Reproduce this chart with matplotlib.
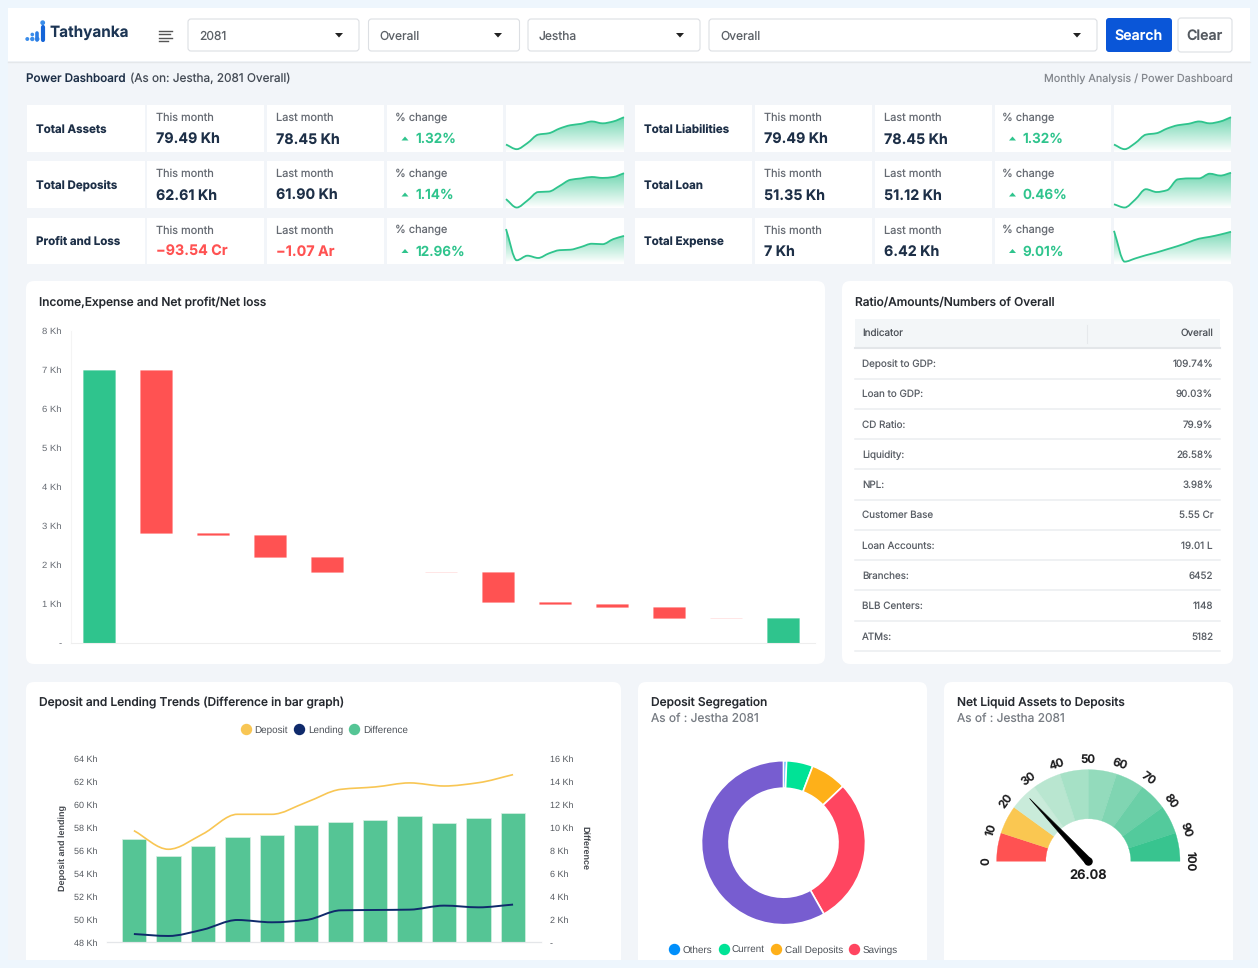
import numpy as np
import matplotlib
matplotlib.use('Agg')
from matplotlib import pyplot as plt
from matplotlib.lines import Line2D
from matplotlib.patches import FancyBboxPatch, PathPatch, Polygon, Rectangle, Wedge
from matplotlib.path import Path

plt.rcParams['font.family'] = ['Inter', 'DejaVu Sans']
plt.rcParams['text.hinting'] = 'none'

W, H = 1258, 968
NAVY = '#1d2f47'
GREY = '#666b73'
GREEN = '#2fc48d'
RED = '#ff5252'
HELV = ['Liberation Sans', 'DejaVu Sans']

# kpi cards: name, this month, last month, change, sparkline (% of cell height)
kpi_names = ['Total Assets', 'Total Deposits', 'Profit and Loss',
             'Total Liabilities', 'Total Loan', 'Total Expense']
kpi_this = ['79.49 Kh', '62.61 Kh', '−93.54 Cr', '79.49 Kh', '51.35 Kh', '7 Kh']
kpi_last = ['78.45 Kh', '61.90 Kh', '−1.07 Ar', '78.45 Kh', '51.12 Kh', '6.42 Kh']
kpi_change = ['1.32%', '1.14%', '12.96%', '1.32%', '0.46%', '9.01%']
spark_assets = [16, 6, 19, 37, 40, 50, 57, 60, 65, 61, 65, 74]
spark_deposits = [19, 1, 16, 34, 35, 47, 60, 63, 66, 64, 66, 74]
spark_profit = [75, 7, 17, 12, 22, 29, 30, 36, 43, 42, 53, 60]
spark_loan = [8, 1, 18, 40, 34, 38, 61, 63, 63, 73, 69, 75]
spark_expense = [71, 4, 11, 18, 24, 31, 38, 46, 54, 58, 63, 69]
kpi_sparks = [spark_assets, spark_deposits, spark_profit,
              spark_assets, spark_loan, spark_expense]

# waterfall, in Kh
income = 7.0
expense_steps = [4.18, 0.06, 0.56, 0.38, 0.0, 0.02, 0.76, 0.04, 0.08, 0.29, 0.005]
net_profit = 0.62
wf_ticks = [0, 1, 2, 3, 4, 5, 6, 7, 8]

# ratio table
table_rows = ['Deposit to GDP:', 'Loan to GDP:', 'CD Ratio:', 'Liquidity:', 'NPL:',
              'Customer Base', 'Loan Accounts:', 'Branches:', 'BLB Centers:', 'ATMs:']
table_vals = ['109.74%', '90.03%', '79.9%', '26.58%', '3.98%',
              '5.55 Cr', '19.01 L', '6452', '1148', '5182']

# trends, in Kh
deposit = [57.71, 56.09, 57.42, 59.13, 59.13, 60.17, 61.30, 61.51, 61.86, 61.59, 61.88, 62.58]
lending = [48.72, 48.55, 49.10, 49.94, 49.74, 49.94, 50.78, 50.81, 50.84, 51.19, 51.04, 51.28]
difference = [8.96, 7.51, 8.35, 9.19, 9.33, 10.23, 10.49, 10.67, 10.99, 10.41, 10.81, 11.28]

# deposit segregation, % (the last slice has its legend entry cut off in the page)
seg_labels = ['Others', 'Current', 'Call Deposits', 'Savings', 'Fixed']
seg_values = [0.6, 5.2, 7.1, 28.9, 58.2]
seg_colors = ['#008ffb', '#00e396', '#feb019', '#ff4560', '#775dd0']

# gauge
gauge_value = 26.08
gauge_ticks = [0, 10, 20, 30, 40, 50, 60, 70, 80, 90, 100]
gauge_colors = ['#ff5252', '#fac751', '#c9ebda', '#b9e6d0', '#a6e1c6', '#93dbbc',
                '#80d5b2', '#6bcfa7', '#53ca9c', '#38c48f']


def px_axes(fig, x0, y0, x1, y1):
    return fig.add_axes([x0 / W, 1 - y1 / H, (x1 - x0) / W, (y1 - y0) / H])


def smooth_path(x, y):
    # monotone cubic through the read points, as bezier segments
    x = np.asarray(x, float)
    y = np.asarray(y, float)
    slope = np.diff(y) / np.diff(x)
    tan = np.zeros(len(x))
    tan[0], tan[-1] = slope[0], slope[-1]
    for i in range(1, len(x) - 1):
        if slope[i - 1] * slope[i] > 0:
            tan[i] = 2 * slope[i - 1] * slope[i] / (slope[i - 1] + slope[i])
    verts = [(x[0], y[0])]
    codes = [Path.MOVETO]
    for i in range(len(x) - 1):
        h = x[i + 1] - x[i]
        verts.append((x[i] + h / 3, y[i] + tan[i] * h / 3))
        verts.append((x[i + 1] - h / 3, y[i + 1] - tan[i + 1] * h / 3))
        verts.append((x[i + 1], y[i + 1]))
        codes += [Path.CURVE4] * 3
    return Path(verts, codes)


def card(ax, x0, y0, x1, y1, fc='white', ec='none', r=8, lw=0.8, zorder=1):
    ax.add_patch(FancyBboxPatch((x0 + r, y0 + r), x1 - x0 - 2 * r, y1 - y0 - 2 * r,
                                boxstyle='round,pad=%g,rounding_size=%g' % (r, r),
                                fc=fc, ec=ec, lw=lw, zorder=zorder))


fig = plt.figure(figsize=(W / 100, H / 100), dpi=100, facecolor='#eef6fd')

# page background, everything here is in pixels
bg = fig.add_axes([0, 0, 1, 1])
bg.set_xlim(0, W)
bg.set_ylim(H, 0)
bg.axis('off')
bg.add_patch(Rectangle((8, 8), 1242, 952, fc='#f2f5f9', ec='none'))
bg.add_patch(Rectangle((8, 8), 1242, 53, fc='white', ec='none'))
bg.plot([8, 1250], [61.5, 61.5], color='#e4e7ea', lw=1)

# header
logo_x = [27.3, 32.3, 32.3, 37.3, 42.7]
logo_y = [39, 39, 34.5, 39, 22.7]
bg.scatter(logo_x, logo_y, s=[8, 10, 7, 10, 12], color='#3b8dea', linewidths=0, zorder=3)
bg.plot([37.3, 37.3], [33, 39.5], color='#2a7de5', lw=2.6, solid_capstyle='round', zorder=3)
bg.plot([42.7, 42.7], [27, 39.5], color='#1565d8', lw=3, solid_capstyle='round', zorder=3)
bg.text(49, 32.5, 'Tathyanka', fontsize=11, fontweight='bold', color='#1c3554', va='center')
for yy, xe in zip([30.5, 34, 37.5, 41], [172, 170, 172, 168]):
    bg.plot([159, xe], [yy, yy], color='#555', lw=1.0)
boxes = [(188, 359, '2081', 339), (368.5, 519.5, 'Overall', 498),
         (528, 700, 'Jestha', 680), (709, 1097, 'Overall', 1077)]
for x0, x1, label, caret in boxes:
    card(bg, x0, 19, x1, 51, ec='#dcdfe3', r=3)
    bg.text(x0 + 11, 36.5, label, fontsize=8.7, color='#5c6167', va='center')
    bg.add_patch(Polygon([(caret - 4, 33), (caret + 4, 33), (caret, 37.5)], fc='#222', ec='none', zorder=3))
card(bg, 1106, 18, 1172, 52, fc='#0a56d8', r=3)
bg.text(1139, 35.5, 'Search', fontsize=10.2, fontweight='semibold', color='white', ha='center', va='center', zorder=3)
card(bg, 1178, 18, 1232, 52, ec='#dcdfe3', r=3)
bg.text(1205, 35.5, 'Clear', fontsize=10.2, fontweight='semibold', color='#555a60', ha='center', va='center', zorder=3)

bg.text(26, 78.5, 'Power Dashboard', fontsize=8.4, fontweight='medium', color=NAVY, va='center')
bg.text(130, 78.5, '(As on: Jestha, 2081 Overall)', fontsize=8.5, color='#444b55', va='center')
bg.text(1233, 78.5, 'Monthly Analysis / Power Dashboard', fontsize=7.8, color='#85898f', ha='right', va='center')

# kpi grid
col_sets = [[(27, 145), (147, 264), (267, 384), (387, 503), (506, 624)],
            [(635, 752), (755, 872), (875, 992), (994.5, 1111), (1114, 1231)]]
row_sets = [(105, 152), (161, 208), (217.5, 263.5)]
for n in range(6):
    cols = col_sets[n // 3]
    y0, y1 = row_sets[n % 3]
    for x0, x1 in cols:
        bg.add_patch(Rectangle((x0, y0), x1 - x0, y1 - y0, fc='white', ec='none'))
    bg.text(cols[0][0] + 9, y0 + 24.5, kpi_names[n], fontsize=8.3, fontweight='bold', color=NAVY, va='center')
    val_color = RED if kpi_this[n].startswith('−') else NAVY
    bg.text(cols[1][0] + 9, y0 + 13, 'This month', fontsize=7.9, color=GREY, va='center')
    bg.text(cols[1][0] + 9, y0 + 34.5, kpi_this[n], fontsize=10.3, fontweight='bold', color=val_color, va='center')
    bg.text(cols[2][0] + 9, y0 + 13, 'Last month', fontsize=7.9, color=GREY, va='center')
    bg.text(cols[2][0] + 9, y0 + 34.5, kpi_last[n], fontsize=10.3, fontweight='bold', color=val_color, va='center')
    bg.text(cols[3][0] + 8, y0 + 12.5, '% change', fontsize=7.9, color=GREY, va='center')
    tx = cols[3][0] + 18
    bg.add_patch(Polygon([(tx - 3.5, y0 + 35.5), (tx + 3.5, y0 + 35.5), (tx, y0 + 31.5)], fc=GREEN, ec='none', zorder=3))
    bg.text(cols[3][0] + 28, y0 + 34.5, kpi_change[n], fontsize=9.8, fontweight='semibold', color=GREEN, va='center')

    sp = px_axes(fig, cols[4][0], y0, cols[4][1], y1)
    sp.axis('off')
    vals = kpi_sparks[n]
    xs = np.arange(len(vals))
    line = smooth_path(xs, vals)
    grad = np.zeros((100, 2, 4))
    grad[..., :3] = matplotlib.colors.to_rgb(GREEN)
    grad[..., 3] = np.linspace(0.7, 0, 100)[:, None]
    im = sp.imshow(grad, extent=(0, 11, 0, 75), aspect='auto', origin='upper', zorder=1)
    area = Path(list(line.vertices) + [(11, 0), (0, 0), (0, vals[0])],
                list(line.codes) + [Path.LINETO, Path.LINETO, Path.CLOSEPOLY])
    im.set_clip_path(PathPatch(area, transform=sp.transData))
    sp.add_patch(PathPatch(line, fc='none', ec=GREEN, lw=1.3, zorder=2, clip_on=False))
    sp.set_xlim(0, 11)
    sp.set_ylim(0, 100)

# panels
card(bg, 26, 281, 825, 664)
card(bg, 842, 281, 1233, 664)
for x0, x1 in [(26, 621), (638, 927), (944, 1233)]:
    card(bg, x0, 682, x1, 972)
bg.add_patch(Rectangle((0, 960), W, 8, fc='#eef6fd', ec='none', zorder=2))

title_style = dict(fontsize=8.6, fontweight='medium', color='#262a30', va='center')
bg.text(39, 302, 'Income,Expense and Net profit/Net loss', **title_style)
bg.text(855, 302, 'Ratio/Amounts/Numbers of Overall', **title_style)
bg.text(39, 702.5, 'Deposit and Lending Trends (Difference in bar graph)', **title_style)
bg.text(651, 702.5, 'Deposit Segregation', **title_style)
bg.text(651, 719, 'As of : Jestha 2081', fontsize=8.6, color='#777c83', va='center')
bg.text(957, 702.5, 'Net Liquid Assets to Deposits', **title_style)
bg.text(957, 719, 'As of : Jestha 2081', fontsize=8.6, color='#777c83', va='center')

# table
bg.add_patch(Rectangle((855, 319), 365, 29, fc='#f3f6f8', ec='none', zorder=2))
bg.plot([1087, 1087], [325, 343], color='#e6e9ec', lw=0.8, zorder=3)
bg.text(862, 333, 'Indicator', fontsize=7.1, color='#4c5158', va='center', zorder=3)
bg.text(1213, 333, 'Overall', fontsize=7.1, color='#4c5158', ha='right', va='center', zorder=3)
bg.plot([855, 1220], [348, 348], color='#e3e6e9', lw=1.5, zorder=3)
for i, (name, val) in enumerate(zip(table_rows, table_vals)):
    yy = 363.5 + i * 30.28
    bg.text(862, yy + 0.7, name, fontsize=7.1, color='#5a5f66', va='center', zorder=3)
    bg.text(1213, yy + 0.7, val, fontsize=7.1, color='#5a5f66', ha='right', va='center', zorder=3)
    bg.plot([855, 1220], [yy + 15, yy + 15], color='#ebedf0', lw=1.1, zorder=3)

# waterfall
ax = px_axes(fig, 71, 331, 815, 642.5)
ax.patch.set_alpha(0)
steps = np.array(expense_steps)
tops = income - np.cumsum(np.r_[0, steps[:-1]])
drawn = steps > 0
ax.bar(0, income, width=0.57, color=GREEN, edgecolor=(0.18, 0.77, 0.55, 0.4), linewidth=0.4)
ax.bar(np.arange(1, 12)[drawn], steps[drawn], bottom=(tops - steps)[drawn], width=0.57,
       color=RED, edgecolor=(1, 0.32, 0.32, 0.25), linewidth=0.4)
ax.bar(12, net_profit, width=0.57, color=GREEN, edgecolor=(0.18, 0.77, 0.55, 0.4), linewidth=0.4)
ax.set_xlim(-0.49, 12.56)
ax.set_ylim(0, 8)
ax.set_yticks(wf_ticks)
ax.set_yticklabels(['-'] + ['%d Kh' % v for v in wf_ticks[1:]], family=HELV)
ax.set_xticks([])
ax.tick_params(axis='y', length=0, pad=6.5, labelsize=6.8, labelcolor=GREY)
for s in ['top', 'right']:
    ax.spines[s].set_visible(False)
ax.spines['left'].set_color('#f4f4f4')
ax.spines['bottom'].set_color('#eeeeee')

# trends
ax1 = px_axes(fig, 107, 758.3, 541, 942.3)
ax2 = ax1.twinx()
xs = np.arange(len(deposit))
ax2.bar(xs, difference, width=0.71, color='#55c595', edgecolor='#d8f0e4', linewidth=0.5)
ax1.set_zorder(ax2.get_zorder() + 1)
ax1.patch.set_visible(False)
ax2.patch.set_visible(False)
ax1.add_patch(PathPatch(smooth_path(xs, deposit), fc='none', ec='#f8c654', lw=1.2))
ax1.add_patch(PathPatch(smooth_path(xs, lending), fc='none', ec='#0f2a6b', lw=1.4))
ax1.set_xlim(-0.78, 11.81)
ax1.set_ylim(48, 64)
ax2.set_ylim(0, 16)
ax1.set_xticks([])
ax1.set_yticks(range(48, 65, 2))
ax1.set_yticklabels(['%d Kh' % v for v in range(48, 65, 2)], family=HELV)
ax2.set_yticks(range(0, 17, 2))
ax2.set_yticklabels(['-'] + ['%d Kh' % v for v in range(2, 17, 2)], family=HELV)
for a in (ax1, ax2):
    a.tick_params(axis='y', length=0, pad=6.5, labelsize=6.5, labelcolor='#555a60')
    for s in ['top', 'left', 'right']:
        a.spines[s].set_visible(False)
    a.spines['bottom'].set_color('#e4e6e9')
bg.text(62.5, 848, 'Deposit and lending', fontsize=6.5, fontweight='bold', family=HELV, color='#44484e',
        rotation=90, ha='center', va='center')
bg.text(585, 848, 'Difference', fontsize=6.5, fontweight='bold', family=HELV, color='#44484e',
        rotation=-90, ha='center', va='center')
trend_handles = [Line2D([], [], ls='', marker='o', ms=7.2, color=c)
                 for c in ['#f8c654', '#0f2a6b', '#55c595']]
fig.legend(trend_handles, ['Deposit', 'Lending', 'Difference'], loc='center', ncol=3,
           bbox_to_anchor=(324 / W, 1 - 730 / H), frameon=False,
           prop=dict(family=HELV, size=7.1), labelcolor='#4c5158',
           handlelength=1.2, handletextpad=0.25, columnspacing=0.55)

# donut
dn = px_axes(fig, 783.5 - 90, 842.7 - 90, 783.5 + 90, 842.7 + 90)
dn.pie(seg_values, colors=seg_colors, startangle=90, counterclock=False, radius=82,
       wedgeprops=dict(width=27.5, edgecolor='white', linewidth=1.2))
dn.set_xlim(-90, 90)
dn.set_ylim(-90, 90)
dn_handles = [Line2D([], [], ls='', marker='o', ms=7.2, color=c) for c in seg_colors[:4]]
fig.legend(dn_handles, seg_labels[:4], loc='center', ncol=4,
           bbox_to_anchor=(783 / W, 1 - 950 / H), frameon=False,
           prop=dict(family=HELV, size=7.1), labelcolor='#4c5158',
           handlelength=1.2, handletextpad=0.25, columnspacing=0.55)

# gauge
gx, gy = 1088.3, 861.3
ga = px_axes(fig, gx - 125, gy - 125, gx + 125, gy + 125)
ga.set_xlim(-125, 125)
ga.set_ylim(-125, 125)
ga.axis('off')
for i, c in enumerate(gauge_colors):
    v0, v1 = gauge_ticks[i], gauge_ticks[i + 1]
    ga.add_patch(Wedge((0, 0), 91.7, 180 - v1 * 1.8, 180 - v0 * 1.8, width=49.2, fc=c, ec=c, lw=0.2))
for v in gauge_ticks:
    ang = np.radians(180 - v * 1.8)
    ga.text(102 * np.cos(ang), 102 * np.sin(ang), str(v), rotation=90 - v * 1.8, fontsize=8.4,
            fontweight='semibold', color='#1d1d1f', ha='center', va='center', rotation_mode='anchor')
ang = np.radians(180 - gauge_value * 1.8)
tip = (86 * np.cos(ang), 86 * np.sin(ang))
nx, ny = -np.sin(ang) * 3.6, np.cos(ang) * 3.6
ga.add_patch(Polygon([tip, (nx, ny), (-nx, -ny)], fc='black', ec='black', lw=0.4, zorder=3))
ga.scatter([0], [0], s=26, color='black', zorder=3)
bg.text(1088, 876, '%.2f' % gauge_value, fontsize=9.4, fontweight='semibold', color='#1d1d1f',
        ha='center', va='center', zorder=3)

plt.savefig('out.png', dpi=100)
